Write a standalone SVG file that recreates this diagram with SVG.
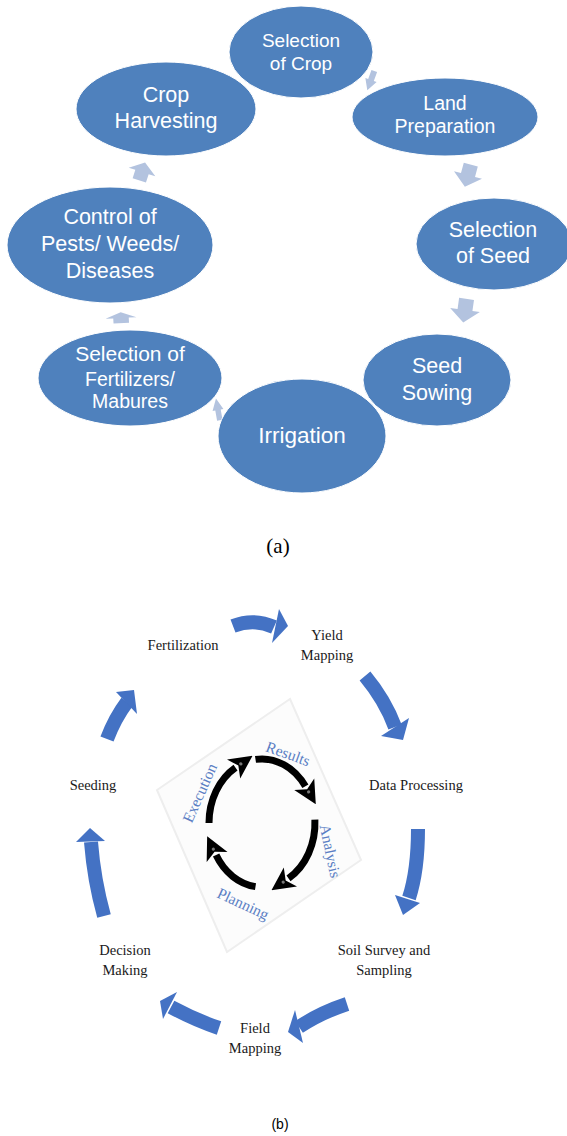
<svg xmlns="http://www.w3.org/2000/svg" width="567" height="1136" viewBox="0 0 567 1136">
<style>
.ell{fill:#4f81bd;stroke:#ffffff;stroke-width:1}
.et{font-family:"Liberation Sans",Arial,sans-serif;fill:#ffffff;text-anchor:middle}
.la{fill:#b3c3df}
.lb{font-family:"Liberation Serif","Times New Roman",serif;font-size:14.5px;fill:#1a1a1a;text-anchor:middle}
.ba{fill:none;stroke:#4472c4;stroke-width:14;stroke-linecap:butt}
.bh{fill:#4472c4}
.ka{fill:none;stroke:#000;stroke-width:7;marker-end:url(#kh)}
.it{font-family:"Liberation Serif","Times New Roman",serif;font-size:15.5px;fill:#5b7fc4;text-anchor:middle}
.cap{font-family:"Liberation Serif","Times New Roman",serif;font-size:21px;fill:#000;text-anchor:middle}
</style>
<defs>
<path id="chev" d="M-8,-5 L0,-5 L0,-10 L9,0 L0,10 L0,5 L-8,5 Z"/>
<marker id="kh" viewBox="0 0 10 10" refX="1" refY="5" markerWidth="3.3" markerHeight="3.4" orient="auto" markerUnits="strokeWidth">
<path d="M0,0 L10,5 L0,10 L2.5,5 Z" fill="#000"/>
<circle cx="3.8" cy="5" r="0.7" fill="#777"/>
</marker>
</defs>
<rect width="567" height="1136" fill="#ffffff"/>

<!-- (a) -->
<g id="a-connectors">
<use href="#chev" class="la" transform="translate(371,80) rotate(110) scale(1.2,0.6)"/>
<use href="#chev" class="la" transform="translate(468,175) rotate(105) scale(1.35,1.45)"/>
<use href="#chev" class="la" transform="translate(465,310) rotate(98) scale(1.4,1.5)"/>
<use href="#chev" class="la" transform="translate(218,410) rotate(-100) scale(1.3,0.55)"/>
<use href="#chev" class="la" transform="translate(121,318) rotate(-93) scale(0.65,1.55)"/>
<use href="#chev" class="la" transform="translate(142,172) rotate(-72) scale(1.1,1.4)"/>
</g>
<g id="n-harvest"><ellipse class="ell" cx="166" cy="109" rx="90" ry="47"/>
<text class="et" font-size="21.5" x="166" y="102">Crop</text><text class="et" font-size="21.5" x="166" y="128">Harvesting</text></g>
<g id="n-crop"><ellipse class="ell" cx="301" cy="52" rx="72" ry="46"/>
<text class="et" font-size="19" x="301" y="47">Selection</text><text class="et" font-size="19" x="301" y="70">of Crop</text></g>
<g id="n-land"><ellipse class="ell" cx="445" cy="117" rx="93" ry="39"/>
<text class="et" font-size="19.5" x="445" y="110">Land</text><text class="et" font-size="19.5" x="445" y="133">Preparation</text></g>
<g id="n-seed"><ellipse class="ell" cx="494" cy="244" rx="78" ry="46"/>
<text class="et" font-size="21.5" x="493" y="237">Selection</text><text class="et" font-size="21.5" x="493" y="263">of Seed</text></g>
<g id="n-control"><ellipse class="ell" cx="110" cy="245" rx="103" ry="58"/>
<text class="et" font-size="21.5" x="110" y="224">Control of</text><text class="et" font-size="21.5" x="110" y="251">Pests/ Weeds/</text><text class="et" font-size="21.5" x="110" y="278">Diseases</text></g>
<g id="n-sowing"><ellipse class="ell" cx="437" cy="380" rx="74" ry="46"/>
<text class="et" font-size="21.5" x="437" y="373">Seed</text><text class="et" font-size="21.5" x="437" y="400">Sowing</text></g>
<g id="n-irrigation"><ellipse class="ell" cx="302" cy="436" rx="84" ry="57"/>
<text class="et" font-size="22.5" x="302" y="443">Irrigation</text></g>
<g id="n-fert"><ellipse class="ell" cx="130" cy="378" rx="92" ry="48"/>
<text class="et" font-size="21" x="130" y="361">Selection of</text><text class="et" font-size="19.5" x="130" y="386">Fertilizers/</text><text class="et" font-size="19.5" x="130" y="408">Mabures</text></g>
<text class="cap" x="278" y="553">(a)</text>

<!-- (b) -->
<g id="b-center">
<polygon points="290,699 361,860 227,952 157,790" fill="#fcfcfc" stroke="#eeeeee" stroke-width="2"/>
<g id="inner-arrows">
<path class="ka" d="M255.5,759.4 A53,64 0 0 1 305.4,786.3"/>
<path class="ka" d="M314.9,819.7 A53,64 0 0 1 288.5,878.4"/>
<path class="ka" d="M255.5,886.6 A53,64 0 0 1 216.1,855"/>
<path class="ka" d="M209,823 A53,64 0 0 1 235.5,767.6"/>
</g>
<text class="it" transform="translate(288,754) rotate(20)" y="5">Results</text>
<text class="it" transform="translate(330,851) rotate(78)" y="5">Analysis</text>
<text class="it" transform="translate(243,904) rotate(25)" y="5">Planning</text>
<text class="it" transform="translate(200,793) rotate(-66)" y="5">Execution</text>
</g>

<g id="b-connectors">
<path class="ba" d="M233,626 Q254,618 274,627" stroke-width="15"/>
<polygon class="bh" points="279,609 288,626 272,643"/>
<path class="ba" d="M365,676 Q385,700 395,727" stroke-width="13"/>
<polygon class="bh" points="409,718 403,740 381,736"/>
<path class="ba" d="M418,829 Q418,870 409,898" stroke-width="12"/>
<polygon class="bh" points="395,895 420,903 403,915"/>
<path class="ba" d="M347,1004 Q320,1013 299,1027" stroke-width="15"/>
<polygon class="bh" points="295,1010 288,1032 303,1043"/>
<path class="ba" d="M219,1028 Q195,1020 171,1007" stroke-width="14"/>
<polygon class="bh" points="177,992 160,1001 163,1019"/>
<path class="ba" d="M104,916 Q94,880 91,842" stroke-width="12"/>
<polygon class="bh" points="76,842 105,841 90,828"/>
<path class="ba" d="M107,739 Q115,718 127,702" stroke-width="14"/>
<polygon class="bh" points="116,692 134,690 137,714"/>
</g>

<g id="b-fert"><text class="lb" x="183" y="650">Fertilization</text></g>
<g id="b-yield"><text class="lb" x="327" y="640">Yield</text><text class="lb" x="327" y="660">Mapping</text></g>
<g id="b-data"><text class="lb" x="416" y="790">Data Processing</text></g>
<g id="b-soil"><text class="lb" x="384" y="955">Soil Survey and</text><text class="lb" x="384" y="975">Sampling</text></g>
<g id="b-field"><text class="lb" x="255" y="1033">Field</text><text class="lb" x="255" y="1053">Mapping</text></g>
<g id="b-decision"><text class="lb" x="125" y="955">Decision</text><text class="lb" x="125" y="975">Making</text></g>
<g id="b-seeding"><text class="lb" x="93" y="790">Seeding</text></g>
<text x="280" y="1129" font-family="'Liberation Sans',Arial,sans-serif" font-size="14" fill="#000" text-anchor="middle">(b)</text>
</svg>
